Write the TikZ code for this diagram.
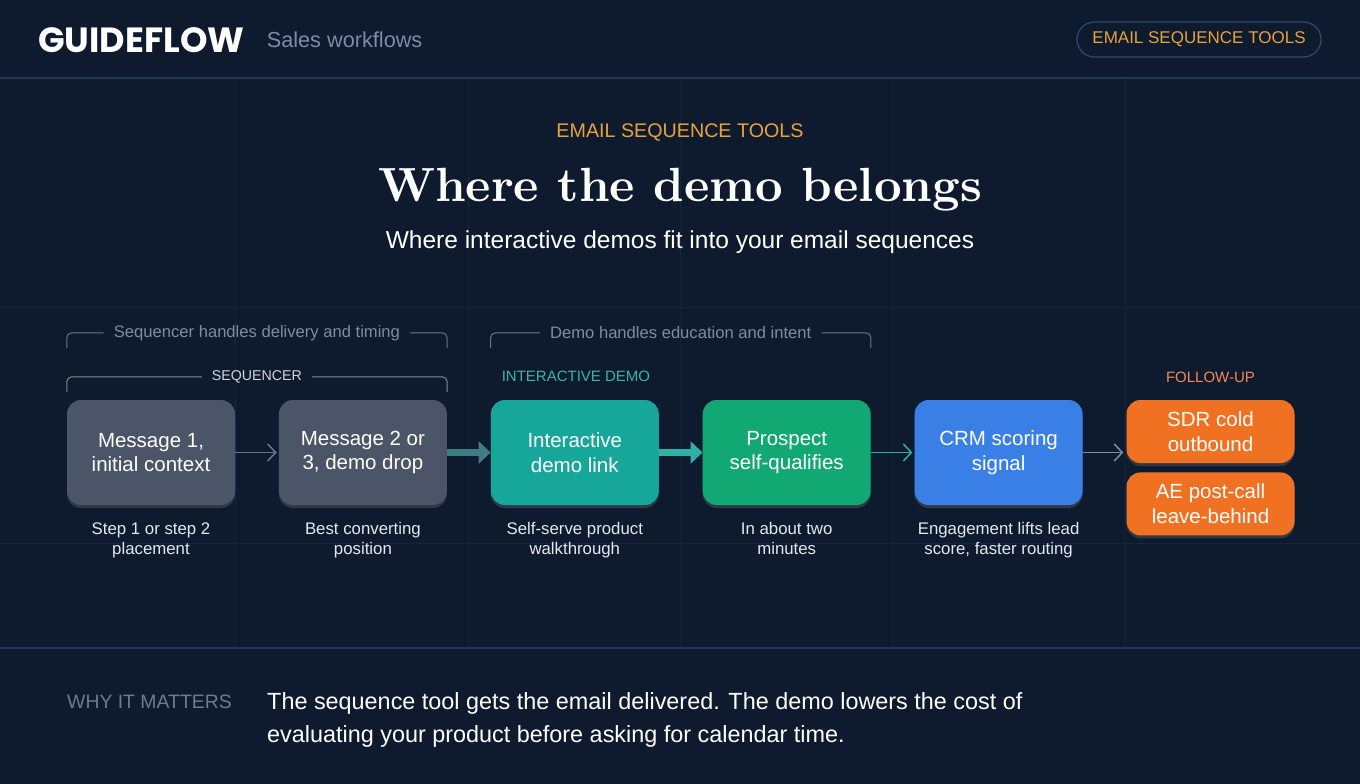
\documentclass[tikz,border=0pt]{standalone}
\usepackage{fontspec}
\setmainfont{Liberation Sans}
\newfontfamily\titlefont{lmroman10}[Extension=.otf, UprightFont=*-regular, BoldFont=*-bold]
\newfontfamily\logofont{Poppins}
\usepackage{xcolor}
\definecolor{bg}{HTML}{0E1A2E}
\definecolor{gridc}{HTML}{16253C}
\definecolor{sepc}{HTML}{21365A}
\definecolor{mute}{HTML}{7E8CA3}
\definecolor{gold}{HTML}{E8A23A}
\definecolor{pill}{HTML}{2E4A70}
\definecolor{slate}{HTML}{4B5567}
\definecolor{teal}{HTML}{17A79A}
\definecolor{green}{HTML}{11A873}
\definecolor{blue}{HTML}{3A7FE6}
\definecolor{orange}{HTML}{F07122}
\definecolor{lwhite}{HTML}{E2E8F0}
\definecolor{arrgray}{HTML}{66768D}
\definecolor{arrteal}{HTML}{3E7C86}
\usetikzlibrary{positioning, calc, arrows.meta, shadows}
\tikzstyle{Box} = [
rounded corners=14pt,
minimum width=168pt,
minimum height=105pt,
text=white,
align=center,
inner sep=0pt,
drop shadow={opacity=0.3, shadow xshift=0pt, shadow yshift=-3pt},
font=\fontsize{20.5}{24.5}\selectfont]
\tikzstyle{SmallBox} = [Box, minimum height=63pt]
\tikzstyle{Note} = [
text=lwhite,
align=center,
inner sep=0pt,
font=\fontsize{16.8}{20}\selectfont]
\tikzstyle{Tag} = [inner sep=0pt, font=\fontsize{15}{15}\selectfont]
\tikzstyle{Bracket} = [line width=1pt, rounded corners=5pt]
\tikzstyle{Arrow} = [
line width=1.5pt,
arrgray,
-{Straight Barb[length=8pt, width=17pt]}]
\tikzstyle{ArrowThick} = [
line width=7pt,
arrteal,
-{Triangle[length=12pt, width=22pt]}]

\begin{document}
\begin{tikzpicture}[node distance=43.5pt]
    \useasboundingbox (0,0) rectangle (1360pt,-784pt);
    \fill[bg] (0,0) rectangle (1360pt,-784pt);
    \foreach \gx in {235,468,680,892,1125}
        \draw[gridc, line width=1pt] (\gx pt,-78pt) -- (\gx pt,-648pt);
    \foreach \gy in {307,543}
        \draw[gridc, line width=1pt] (0,-\gy pt) -- (1360pt,-\gy pt);
    \draw[sepc, line width=1.2pt] (0,-78pt) -- (1360pt,-78pt);
    \draw[sepc, line width=1.2pt] (0,-648pt) -- (1360pt,-648pt);

    \node[anchor=west, inner sep=0pt, text=white, font=\logofont\bfseries\fontsize{35}{35}\selectfont] (logo) at (38pt,-40pt) {GUIDEFLOW};
    \node[right=22pt of logo, inner sep=0pt, text=mute, font=\fontsize{21.7}{21.7}\selectfont] (area) {Sales workflows};
    \node[draw=pill, line width=1.2pt, rounded corners=17.5pt, minimum width=244pt, minimum height=35pt, text=gold, font=\fontsize{17}{17}\selectfont] (badge) at (1199pt,-39.5pt) {EMAIL SEQUENCE TOOLS};

    \node[text=gold, font=\fontsize{19.7}{19.7}\selectfont] (kicker) at (680pt,-132pt) {EMAIL SEQUENCE TOOLS};
    \node[below=20pt of kicker, text=white, font=\titlefont\bfseries\fontsize{48}{48}\selectfont] (title) {Where the demo belongs};
    \node[text=white, font=\fontsize{24.5}{24.5}\selectfont] (subtitle) at (680pt,-242pt) {Where interactive demos fit into your email sequences};

    \node[Box, fill=slate] (1) at (151pt,-452.5pt) {Message 1,\\initial context};
    \node[Box, fill=slate, right =of 1] (2) {Message 2 or\\3, demo drop};
    \node[Box, fill=teal, right =of 2] (3) {Interactive\\demo link};
    \node[Box, fill=green, right =of 3] (4) {Prospect\\self-qualifies};
    \node[Box, fill=blue, right =of 4] (5) {CRM scoring\\signal};
    \node[SmallBox, fill=orange, right =of 5, yshift=21pt] (6) {SDR cold\\outbound};
    \node[SmallBox, fill=orange, below =9pt of 6] (7) {AE post-call\\leave-behind};

    \node[Note, below =17pt of 1] (n1) {Step 1 or step 2\\placement};
    \node[Note, below =17pt of 2] (n2) {Best converting\\position};
    \node[Note, below =17pt of 3] (n3) {Self-serve product\\walkthrough};
    \node[Note, below =17pt of 4] (n4) {In about two\\minutes};
    \node[Note, below =17pt of 5] (n5) {Engagement lifts lead\\score, faster routing};

    \node[Tag, text=lwhite!80!mute, font=\fontsize{14.2}{14.2}\selectfont] (seq) at ($(1.north west)!0.5!(2.north east)+(0,23pt)$) {SEQUENCER};
    \node[Tag, text=teal!85!white, anchor=west] (demo) at ([xshift=11pt, yshift=23pt]3.north west) {INTERACTIVE DEMO};
    \node[Tag, text=orange!70!pink] (follow) at ([yshift=22pt]6.north) {FOLLOW-UP};
    \node[Tag, text=mute, font=\fontsize{16.6}{16.6}\selectfont] (top1) at ($(1.north west)!0.5!(2.north east)+(0,67pt)$) {Sequencer handles delivery and timing};
    \node[Tag, text=mute, font=\fontsize{16.6}{16.6}\selectfont] (top2) at ($(3.north west)!0.5!(4.north east)+(0,67pt)$) {Demo handles education and intent};

    \draw[Bracket, lwhite!55!bg] ([xshift=-10pt]seq.west) -| ([yshift=8pt]1.north west);
    \draw[Bracket, lwhite!55!bg] ([xshift=10pt]seq.east) -| ([yshift=8pt]2.north east);
    \draw[Bracket, mute!80!bg] ([xshift=-10pt]top1.west) -| ([yshift=52pt]1.north west);
    \draw[Bracket, mute!80!bg] ([xshift=10pt]top1.east) -| ([yshift=52pt]2.north east);
    \draw[Bracket, mute!80!bg] ([xshift=-10pt]top2.west) -| ([yshift=52pt]3.north west);
    \draw[Bracket, mute!80!bg] ([xshift=10pt]top2.east) -| ([yshift=52pt]4.north east);

    \draw[Arrow] (1.east) -- ([xshift=-2pt]2.west);
    \draw[ArrowThick] (2.east) -- (3.west);
    \draw[ArrowThick, teal!90!white] (3.east) -- (4.west);
    \draw[Arrow, teal!90!white] (4.east) -- ([xshift=-2pt]5.west);
    \draw[Arrow, mute] (5.east) -- ([xshift=-3pt]5.east -| 6.west);

    \node[anchor=west, inner sep=0pt, text=mute!85!bg, font=\fontsize{19.4}{19.4}\selectfont] (why) at (67pt,-702pt) {WHY IT MATTERS};
    \node[anchor=north west, inner sep=0pt, align=left, text=white, font=\fontsize{23.4}{33}\selectfont] (body) at (267pt,-692pt) {The sequence tool gets the email delivered. The demo lowers the cost of\\evaluating your product before asking for calendar time.};
\end{tikzpicture}
\end{document}
